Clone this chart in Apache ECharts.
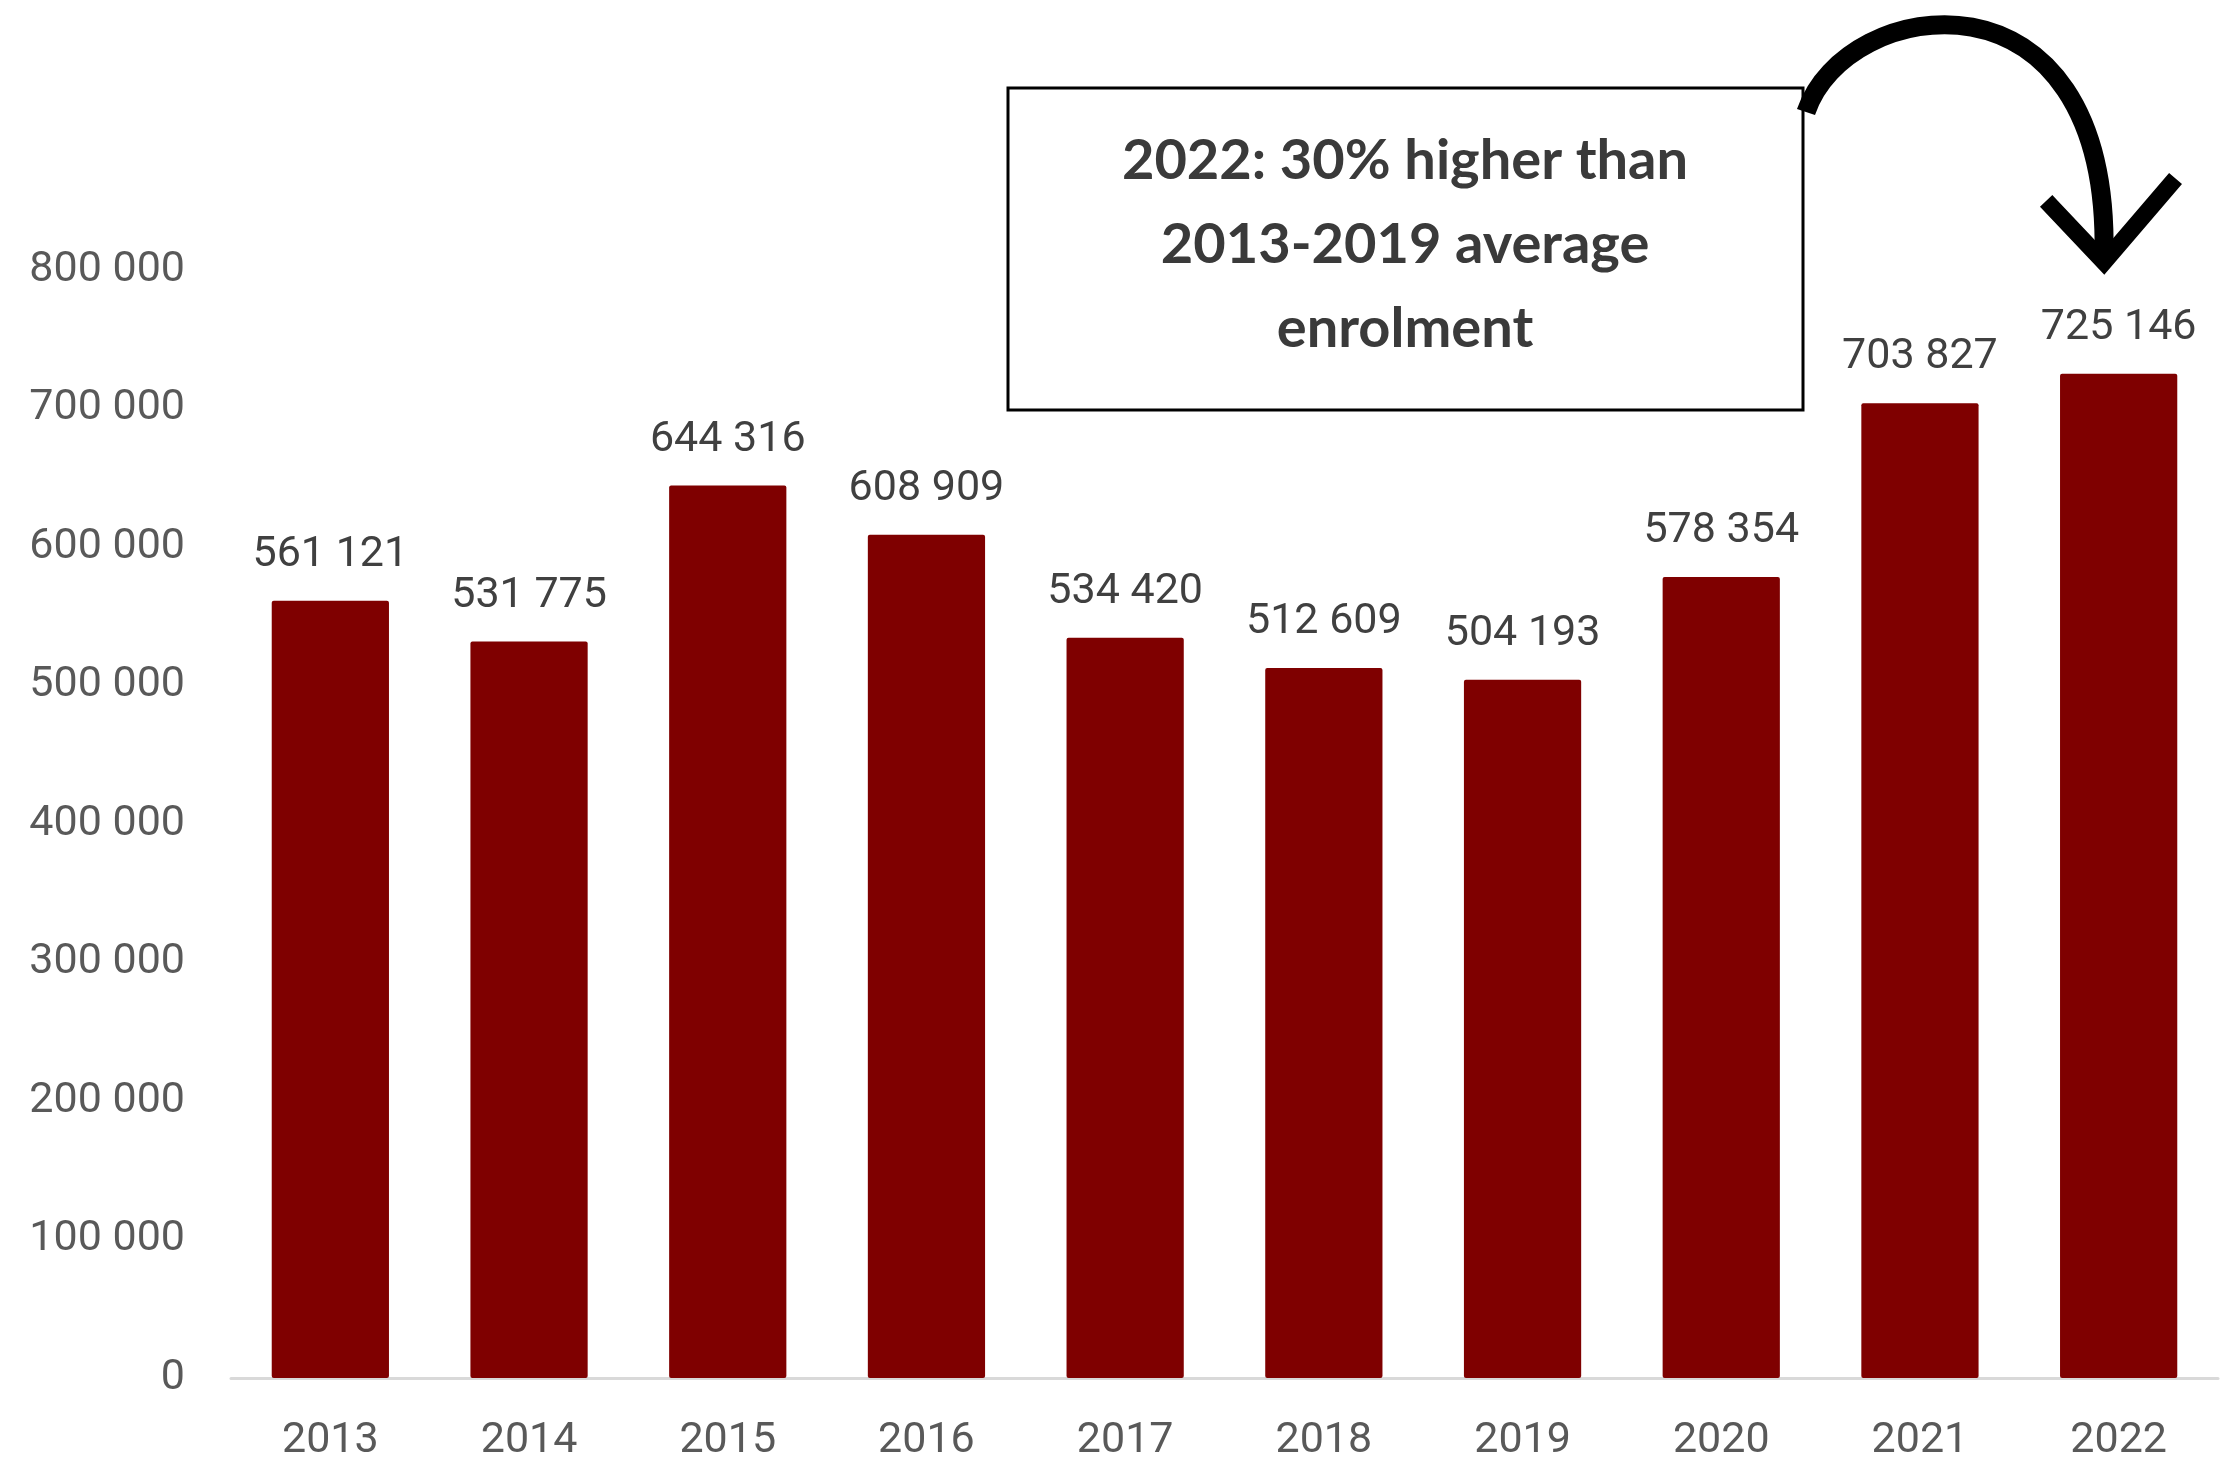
<!DOCTYPE html>
<html>
<head>
<meta charset="utf-8">
<script src="https://cdn.jsdelivr.net/npm/echarts@6/dist/echarts.min.js"></script>
<style>
  html, body { margin: 0; padding: 0; background: #fff; }
  #main { width: 2232px; height: 1463px; }
</style>
</head>
<body>
<div id="main"></div>
<script>
var myChart = echarts.init(document.getElementById('main'));

// 数据
var years = ['2013', '2014', '2015', '2016', '2017', '2018', '2019', '2020', '2021', '2022'];
var enrolment = [561121, 531775, 644316, 608909, 534420, 512609, 504193, 578354, 703827, 725146];
var yTicks = [0, 100000, 200000, 300000, 400000, 500000, 600000, 700000, 800000];
var noteLines = ['2022: 30% higher than', '2013-2019 average', 'enrolment'];

function spaced(v) {
    return String(v).replace(/\B(?=(\d{3})+(?!\d))/g, ' ');
}

var option = {
    animation: false,
    backgroundColor: '#fff',
    grid: {
        left: 231,
        right: 14,
        top: 270,
        bottom: 82
    },
    xAxis: {
        type: 'category',
        data: years,
        axisTick: { show: false },
        axisLine: { lineStyle: { color: '#d9d9d9', width: 3 } },
        axisLabel: {
            color: '#595959',
            fontFamily: 'Roboto',
            fontSize: 43,
            margin: 42
        }
    },
    yAxis: {
        type: 'value',
        min: yTicks[0],
        max: yTicks[yTicks.length - 1],
        interval: 100000,
        splitLine: { show: false },
        axisLine: { show: false },
        axisTick: { show: false },
        axisLabel: {
            color: '#595959',
            fontFamily: 'Roboto',
            fontSize: 43,
            margin: 46,
            formatter: spaced
        }
    },
    series: [{
        type: 'bar',
        data: enrolment,
        barCategoryGap: '41%',
        itemStyle: { color: '#7f0000', borderRadius: 2 },
        label: {
            show: true,
            position: 'top',
            distance: 24,
            color: '#404040',
            fontFamily: 'Roboto',
            fontSize: 43,
            formatter: function (p) { return spaced(p.value); }
        }
    }],
    graphic: [
        {
            type: 'rect',
            shape: { x: 1008, y: 88, width: 795, height: 322 },
            style: { fill: '#fff', stroke: '#000', lineWidth: 3 }
        },
        {
            type: 'text',
            x: 1405,
            y: 245,
            style: {
                text: noteLines.join('\n'),
                fill: '#3a3a3a',
                font: 'bold 56px Lato',
                lineHeight: 84,
                align: 'center',
                verticalAlign: 'middle'
            }
        },
        {
            // 箭头
            type: 'bezierCurve',
            shape: { x1: 1806, y1: 112, cpx1: 1845, cpy1: -5, cpx2: 2110, cpy2: -45, x2: 2104, y2: 255 },
            style: { stroke: '#000', lineWidth: 19, fill: null, lineCap: 'butt' }
        },
        {
            type: 'polyline',
            shape: { points: [[2052, 207], [2104, 262], [2170, 185]] },
            style: { stroke: '#000', lineWidth: 17, fill: null, lineCap: 'square', lineJoin: 'miter' }
        }
    ]
};

myChart.setOption(option);
</script>
</body>
</html>
